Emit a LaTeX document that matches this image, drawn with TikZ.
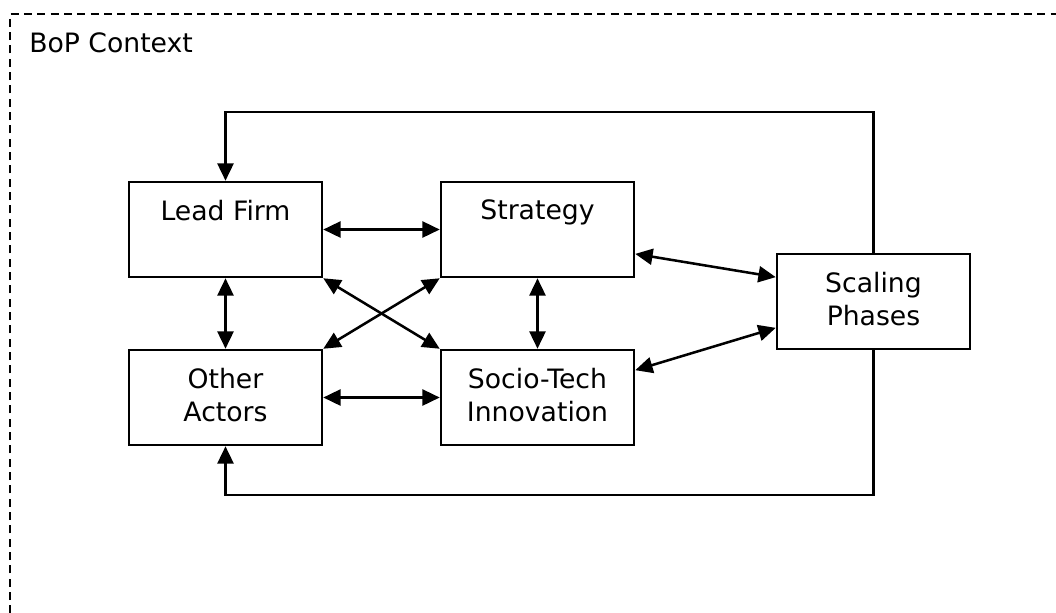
\documentclass[tikz,border=0pt]{standalone}
\usepackage{fontspec}
\setmainfont{DejaVu Sans}
\usetikzlibrary{arrows.meta,calc}

\tikzset{
  blk/.style={draw, minimum width=144.75pt, minimum height=71.25pt, inner sep=0pt},
  lbl/.style={inner sep=0pt, align=center, font=\fontsize{20}{24.75}\selectfont},
  link/.style={{Triangle[length=13pt,width=12pt]}-{Triangle[length=13pt,width=12pt]}},
  fb/.style={-{Triangle[length=13pt,width=12pt]}}
}

\begin{document}
\begin{tikzpicture}[x=0.75pt,y=0.75pt,yscale=-1,xscale=1,line width=1.9pt]
\useasboundingbox (0,0) rectangle (1056,612);

%Context frame
\draw [dash pattern=on 6pt off 4pt, line width=1.5pt] (10,640) -- (10,14) -- (1080,14) ;
\node [lbl, anchor=north west] (ctx) at (28,31) {BoP Context};

%Boxes
\node [blk] (LF) at (225.5,229.5) {};
\node [blk] (ST) at (537.5,229.5) {};
\node [blk] (OA) at (225.5,397.5) {};
\node [blk] (SI) at (537.5,397.5) {};
\node [blk] (SP) at (873.5,301.5) {};

% Text Node
\node [lbl, anchor=north] (LFtxt) at ($(LF.north)+(0,18)$) {Lead Firm};
% Text Node
\node [lbl, anchor=north] (STtxt) at ($(ST.north)+(0,18)$) {Strategy};
% Text Node
\node [lbl, anchor=north] (OAtxt) at ($(OA.north)+(0,18)$) {Other\\Actors};
% Text Node
\node [lbl, anchor=north] (SItxt) at ($(SI.north)+(0,18)$) {Socio-Tech\\Innovation};
% Text Node
\node [lbl, anchor=north] (SPtxt) at ($(SP.north)+(0,18)$) {Scaling\\Phases};

%Two-way links
\draw [link] (LF.east) -- (ST.west) ;
\draw [link] (OA.east) -- (SI.west) ;
\draw [link] (LF.south) -- (OA.north) ;
\draw [link] (ST.south) -- (SI.north) ;
\draw [link] (LF.south east) -- (SI.north west) ;
\draw [link] (ST.south west) -- (OA.north east) ;
\draw [link] ($(ST.north east)!0.75!(ST.south east)$) -- ($(SP.north west)!0.25!(SP.south west)$) ;
\draw [link] ($(SI.north east)!0.22!(SI.south east)$) -- ($(SP.north west)!0.77!(SP.south west)$) ;

%Feedback loops
\coordinate (topRail) at (0,112);
\coordinate (botRail) at (0,495);
\draw [fb] (SP.north) |- (topRail -| LF.north) -- (LF.north) ;
\draw [fb] (SP.south) |- (botRail -| OA.south) -- (OA.south) ;

\end{tikzpicture}
\end{document}
